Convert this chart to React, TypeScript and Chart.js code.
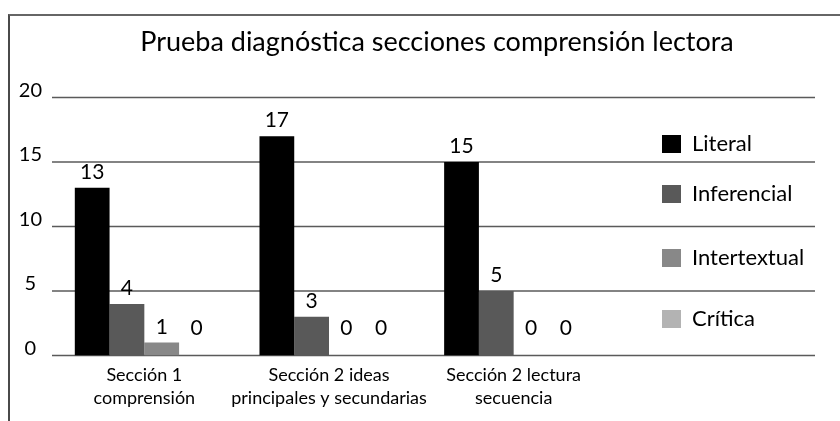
import { useEffect, useRef } from "react";
import { Chart, registerables } from "chart.js";

Chart.register(...registerables);

const TITLE = "Prueba diagnóstica secciones comprensión lectora";
const categories = [
  ["Sección 1", "comprensión"],
  ["Sección 2 ideas", "principales y secundarias"],
  ["Sección 2 lectura", "secuencia"],
];
const seriesNames = ["Literal", "Inferencial", "Intertextual", "Crítica"];
const literal = [13, 17, 15];
const inferencial = [4, 3, 5];
const intertextual = [1, 0, 0];
const critica = [0, 0, 0];
const seriesColors = ["#000000", "#595959", "#888888", "#b3b3b3"];
const yMin = 0;
const yMax = 20;
const yStep = 5;

const FONT = "Lato, 'Open Sans', sans-serif";
const LEGEND_ROWS = [144, 194, 258, 319];

const gridPlugin = {
  id: "extendedGrid",
  beforeDatasetsDraw(chart: any) {
    const { ctx, chartArea } = chart;
    const y = chart.scales.y;
    ctx.save();
    ctx.strokeStyle = "#5a5a5a";
    ctx.lineWidth = 1.5;
    y.ticks.forEach((t: any) => {
      const py = y.getPixelForValue(t.value);
      ctx.beginPath();
      ctx.moveTo(chartArea.left, py);
      ctx.lineTo(815, py);
      ctx.stroke();
    });
    ctx.restore();
  },
};

const valueLabelPlugin = {
  id: "valueLabels",
  afterDatasetsDraw(chart: any) {
    const { ctx } = chart;
    ctx.save();
    ctx.fillStyle = "#000";
    ctx.font = `21px ${FONT}`;
    ctx.textAlign = "center";
    ctx.textBaseline = "alphabetic";
    chart.data.datasets.forEach((ds: any, i: number) => {
      const meta = chart.getDatasetMeta(i);
      meta.data.forEach((bar: any, j: number) => {
        const v = ds.data[j];
        const gap = v === 0 ? 21 : 9;
        ctx.fillText(String(v), bar.x, bar.y - gap);
      });
    });
    ctx.restore();
  },
};

const titleLegendPlugin = {
  id: "titleLegend",
  afterDraw(chart: any) {
    const { ctx } = chart;
    ctx.save();
    ctx.fillStyle = "#000";
    ctx.font = `27px ${FONT}`;
    ctx.textAlign = "center";
    ctx.textBaseline = "middle";
    ctx.fillText(TITLE, 437, 42);
    ctx.font = `22px ${FONT}`;
    ctx.textAlign = "left";
    chart.data.datasets.forEach((ds: any, i: number) => {
      const cy = LEGEND_ROWS[i];
      ctx.fillStyle = ds.backgroundColor;
      ctx.fillRect(662, cy - 9, 19, 18);
      ctx.fillStyle = "#000";
      ctx.fillText(ds.label, 692, cy);
    });
    ctx.restore();
  },
};

export default function App() {
  const ref = useRef<HTMLCanvasElement | null>(null);
  useEffect(() => {
    if (!ref.current) return;
    const seriesValues = [literal, inferencial, intertextual, critica];
    const chart = new Chart(ref.current, {
      type: "bar",
      data: {
        labels: categories,
        datasets: seriesNames.map((name, i) => ({
          label: name,
          data: seriesValues[i],
          backgroundColor: seriesColors[i],
          borderWidth: 0,
          barPercentage: 1,
          categoryPercentage: 0.753,
        })),
      },
      options: {
        animation: false,
        responsive: false,
        maintainAspectRatio: false,
        layout: { padding: { left: 0, right: 234, top: 97.5, bottom: 0 } },
        plugins: {
          legend: { display: false },
          tooltip: { enabled: false },
          title: { display: false },
        },
        scales: {
          x: {
            grid: { display: false, drawTicks: false },
            border: { display: false },
            ticks: {
              color: "#000",
              font: { family: FONT, size: 18, lineHeight: 1.3 },
              padding: 8,
              maxRotation: 0,
              autoSkip: false,
            },
            afterFit: (s: any) => {
              s.height = 65.5;
            },
          },
          y: {
            min: yMin,
            max: yMax,
            ticks: {
              stepSize: yStep,
              color: "#000",
              font: { family: FONT, size: 20 },
              padding: 10,
              crossAlign: "center",
              labelOffset: -7,
            },
            grid: { display: false, drawTicks: false },
            border: { display: false },
            afterFit: (s: any) => {
              s.width = 52;
            },
          },
        },
      },
      plugins: [gridPlugin, valueLabelPlugin, titleLegendPlugin],
    });
    return () => chart.destroy();
  }, []);

  return (
    <div
      style={{
        position: "fixed",
        left: 0,
        top: 0,
        width: 840,
        height: 421,
        background: "#fff",
        overflow: "hidden",
      }}
    >
      <canvas ref={ref} width={840} height={421} style={{ display: "block" }} />
      <div
        style={{
          position: "absolute",
          left: 8,
          top: 14,
          width: 900,
          height: 500,
          borderLeft: "2px solid #4a4a4a",
          borderTop: "2px solid #666",
          pointerEvents: "none",
        }}
      />
    </div>
  );
}
